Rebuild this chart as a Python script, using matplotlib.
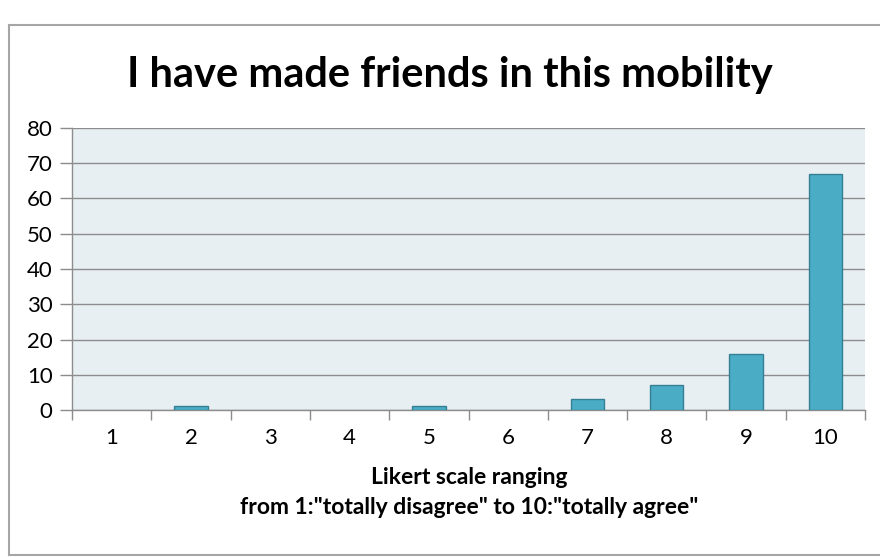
import matplotlib
matplotlib.use('Agg')
import matplotlib.pyplot as plt
from matplotlib.lines import Line2D
import numpy as np

categories = ['1', '2', '3', '4', '5', '6', '7', '8', '9', '10']
counts = [0, 1, 0, 0, 1, 0, 3, 7, 16, 67]
yticks = [0, 10, 20, 30, 40, 50, 60, 70, 80]

plt.rcParams['font.family'] = ['Lato', 'DejaVu Sans']

fig = plt.figure(figsize=(8.8, 5.57), dpi=100)
ax = fig.add_axes([72/880, 1 - 410/557, (865 - 72)/880, (410 - 128)/557])

x = np.arange(len(categories))
bars = ax.bar(x, counts, width=0.42, color='#4bacc6', edgecolor='#357f95', linewidth=1, zorder=3)
# empty categories get no outline
for b, c in zip(bars, counts):
    if c == 0:
        b.set_linewidth(0)

ax.set_facecolor('#e8eff3')
ax.set_xlim(-0.5, len(categories) - 0.5)
ax.set_ylim(0, 80)
ax.set_yticks(yticks)
ax.yaxis.grid(True, color='#8c8c8c', linewidth=1, zorder=1)
ax.set_axisbelow(True)

# category labels centred, tick marks on the boundaries
ax.set_xticks(x)
ax.set_xticklabels(categories)
ax.set_xticks(np.arange(len(categories) + 1) - 0.5, minor=True)
ax.tick_params(axis='x', which='major', length=0, pad=13, labelsize=16)
ax.tick_params(axis='x', which='minor', length=7, color='#8c8c8c', width=1)
ax.tick_params(axis='y', length=9, color='#8c8c8c', width=1, pad=5, labelsize=16)

for s in ['top', 'right']:
    ax.spines[s].set_visible(False)
for s in ['left', 'bottom']:
    ax.spines[s].set_color('#8c8c8c')
    ax.spines[s].set_linewidth(1)

fig.text(450/880, 1 - 75/557, 'I have made friends in this mobility',
         ha='center', va='center', fontsize=30, fontweight='bold')
fig.text(469/880, 1 - 478/557, 'Likert scale ranging',
         ha='center', va='center', fontsize=16.5, fontweight='bold')
fig.text(469/880, 1 - 508/557, 'from 1:"totally disagree" to 10:"totally agree"',
         ha='center', va='center', fontsize=16.5, fontweight='bold')

# outer chart frame
frame = dict(color='#a6a6a6', linewidth=1.5, transform=fig.transFigure)
fig.add_artist(Line2D([9/880, 1], [1 - 25/557, 1 - 25/557], **frame))
fig.add_artist(Line2D([9/880, 9/880], [1 - 25/557, 1 - 555/557], **frame))
fig.add_artist(Line2D([9/880, 1], [1 - 555/557, 1 - 555/557], **frame))

fig.savefig('out.png', dpi=100)
